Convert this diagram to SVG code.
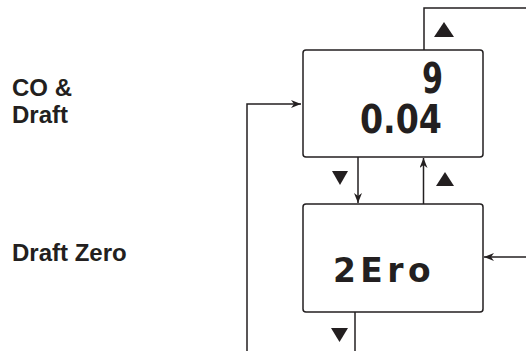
<svg xmlns="http://www.w3.org/2000/svg" width="526" height="351" viewBox="0 0 526 351">
<style>
.box{fill:#fff;stroke:#231f20;stroke-width:1.5}
.ln{fill:none;stroke:#231f20;stroke-width:1.5}
.tri{fill:#231f20}
.lbl{font-family:"Liberation Sans",Arial,sans-serif;font-weight:bold;font-size:24px;fill:#231f20}
.lcd{font-family:"DejaVu Sans Condensed","DejaVu Sans",sans-serif;font-weight:bold;fill:#231f20}
</style>
<defs>
<marker id="ah" viewBox="0 0 10 8" refX="10" refY="4" markerWidth="10" markerHeight="8" markerUnits="userSpaceOnUse" orient="auto">
<path d="M0,0 L10,4 L0,8 L3,4 Z" fill="#231f20"/>
</marker>
</defs>
<rect width="526" height="351" fill="#fff"/>
<g id="label-co-draft">
<text class="lbl" x="12" y="96">CO &amp;</text>
<text class="lbl" x="12" y="123">Draft</text>
</g>
<g id="label-draft-zero">
<text class="lbl" x="12" y="261">Draft Zero</text>
</g>
<g id="connectors">
<polyline class="ln" points="424,50 424,8 526,8"/>
<polyline class="ln" points="247,351 247,104 301,104" marker-end="url(#ah)"/>
<line class="ln" x1="358" y1="157" x2="358" y2="203" marker-end="url(#ah)"/>
<line class="ln" x1="423.5" y1="204" x2="423.5" y2="158" marker-end="url(#ah)"/>
<line class="ln" x1="526" y1="257" x2="484" y2="257" marker-end="url(#ah)"/>
<line class="ln" x1="355" y1="312" x2="355" y2="351"/>
<polygon class="tri" points="434,37 454,37 444,22"/>
<polygon class="tri" points="332,171 348,171 340,185"/>
<polygon class="tri" points="436,186 454,186 445,172"/>
<polygon class="tri" points="331,328 348,328 339.5,342"/>
</g>
<g id="node-co-draft">
<rect class="box" x="303" y="50" width="180" height="107" rx="3"/>
<text class="lcd" x="422" y="93" font-size="42" textLength="21" lengthAdjust="spacingAndGlyphs">9</text>
<text class="lcd" x="360" y="133" font-size="39" textLength="82" lengthAdjust="spacingAndGlyphs">0.04</text>
</g>
<g id="node-draft-zero">
<rect class="box" x="303" y="204" width="180" height="108" rx="3"/>
<text class="lcd" x="333" y="282" font-size="33" letter-spacing="4" textLength="102" lengthAdjust="spacingAndGlyphs">2Ero</text>
</g>
</svg>
